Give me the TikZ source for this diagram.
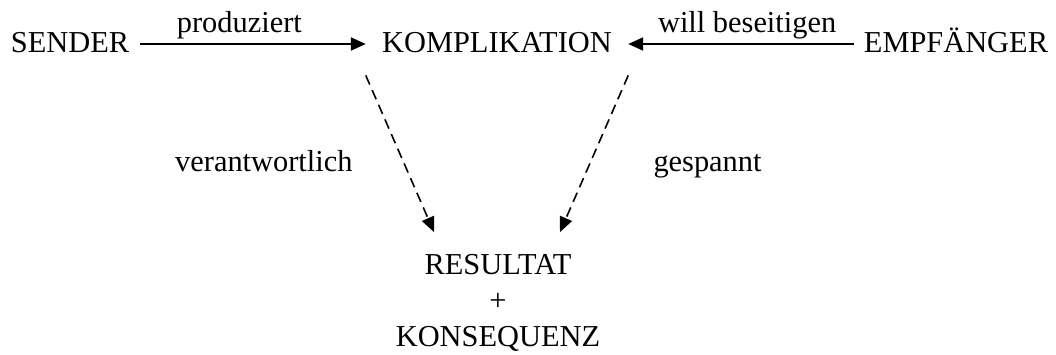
\documentclass[tikz,border=0pt]{standalone}
\usepackage{fontspec}
\setmainfont{Liberation Serif}
\usetikzlibrary{arrows.meta}
\tikzset{
	% Two node styles: actants in capitals and the small relation labels
	actant/.style={inner sep=5pt,text height=0.8em,text depth=0pt},
	relation/.style={inner sep=4pt,text height=0.7em,text depth=0.22em},
	% solid and dashed connectors
	plain arrow/.style={draw,line width=1pt,-{Triangle[length=7.5pt,width=6.5pt]}},
	dashed arrow/.style={draw,line width=0.8pt,dash pattern=on 5pt off 3pt,-{Triangle[length=7.5pt,width=6.5pt]}}
}
\begin{document}
\begin{tikzpicture}[x=0.5pt,y=-0.5pt,font=\fontsize{15.2}{18}\selectfont]
	\useasboundingbox (0,0) rectangle (1056,354);
	
	% top row
	\node(sender)[actant] at (70,44){SENDER};
	\node(kompl)[actant] at (497,44){KOMPLIKATION};
	\node(empf)[actant] at (956,44){EMPFÄNGER};
	
	% bottom
	\node(result)[align=center,inner sep=5pt] at (498,303){RESULTAT\\+\\KONSEQUENZ};
	
	\draw[plain arrow,shorten >=3pt](sender) -- node[relation,above,pos=0.43,yshift=-1pt]{produziert} (kompl);
	\draw[plain arrow,shorten >=3pt](empf) -- node[relation,above,pos=0.46,yshift=-1pt]{will beseitigen} (kompl);
	
	\draw[dashed arrow]([xshift=-3pt,yshift=-6.5pt]kompl.south west) -- node[relation,left=21pt,pos=0.55,yshift=-2.5pt]{verantwortlich} ([xshift=-32pt,yshift=6pt]result.north);
	\draw[dashed arrow]([xshift=3pt,yshift=-6.5pt]kompl.south east) -- node[relation,right=27pt,pos=0.55,yshift=-2.5pt]{gespannt} ([xshift=31pt,yshift=6pt]result.north);
\end{tikzpicture}
\end{document}
